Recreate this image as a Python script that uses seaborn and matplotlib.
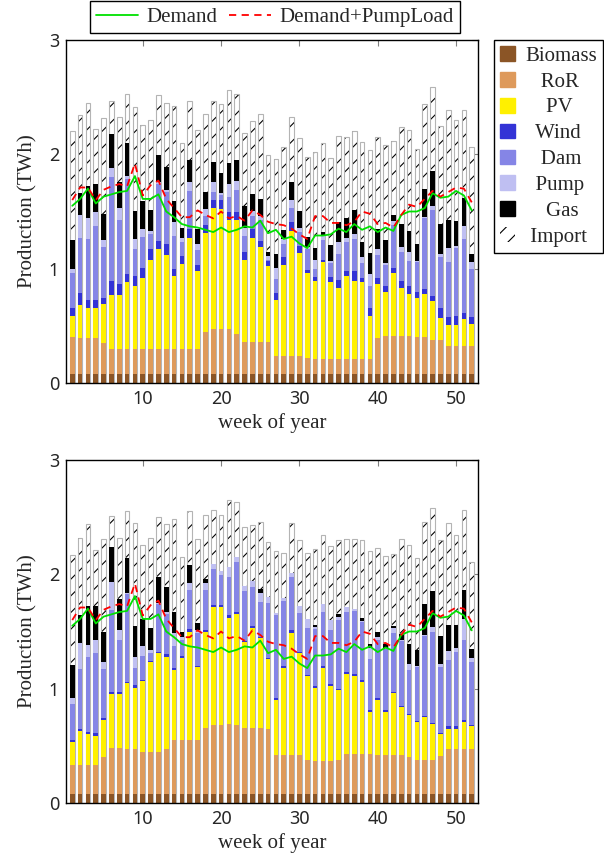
"""
Weekly production mix for two scenarios, stacked bars + demand lines
"""

import matplotlib
matplotlib.use("Agg")
import matplotlib.pyplot as plt
import pandas as pd
import seaborn as sns
from matplotlib.lines import Line2D
from matplotlib.patches import Patch

weeks = list(range(1, 53))
sources = ["Biomass", "RoR", "PV", "Wind", "Dam", "Pump", "Gas", "Import"]
# legend text is centred in the original, pad the short names a bit
legend_labels = ["Biomass", "   RoR", "    PV", "  Wind", "   Dam", "  Pump",
                 "    Gas", " Import"]

# ---- upper scenario (TWh per week)
biomass_a = [0.08] * 52
ror_a = [0.32, 0.31, 0.31, 0.31, 0.27, 0.22, 0.22, 0.22, 0.22, 0.22,
         0.22, 0.22, 0.22, 0.22, 0.22, 0.22, 0.22, 0.37, 0.39, 0.39,
         0.39, 0.35, 0.28, 0.28, 0.28, 0.28, 0.16, 0.16, 0.16, 0.16,
         0.14, 0.13, 0.13, 0.13, 0.13, 0.13, 0.13, 0.13, 0.13, 0.31,
         0.33, 0.33, 0.33, 0.33, 0.32, 0.32, 0.30, 0.30, 0.24, 0.24,
         0.24, 0.24]
pv_a = [0.19, 0.29, 0.27, 0.27, 0.34, 0.47, 0.47, 0.58, 0.55, 0.62,
        0.78, 0.87, 0.82, 0.64, 0.74, 0.97, 0.68, 0.86, 1.06, 1.05,
        0.96, 1.00, 0.72, 0.91, 0.83, 0.66, 0.49, 0.79, 1.09, 0.90,
        0.74, 0.68, 0.85, 0.67, 0.62, 0.73, 0.68, 0.67, 0.38, 0.48,
        0.39, 0.55, 0.42, 0.37, 0.34, 0.38, 0.34, 0.19, 0.19, 0.19,
        0.24, 0.20]
wind_a = [0.07, 0.11, 0.07, 0.07, 0.05, 0.12, 0.10, 0.07, 0.09, 0.09,
          0.09, 0.07, 0.10, 0.06, 0.07, 0.08, 0.05, 0.07, 0.07, 0.08,
          0.07, 0.07, 0.07, 0.08, 0.05, 0.05, 0.06, 0.07, 0.08, 0.06,
          0.03, 0.04, 0.02, 0.05, 0.07, 0.04, 0.09, 0.04, 0.07, 0.05,
          0.05, 0.05, 0.06, 0.07, 0.06, 0.04, 0.04, 0.09, 0.07, 0.08,
          0.05, 0.06]
dam_a = [0.30, 0.48, 0.53, 0.64, 0.45, 0.91, 0.56, 0.83, 0.23, 0.27,
         0.13, 0.50, 0.45, 0.29, 0.12, 0.33, 0.13, 0.08, 0.07, 0.04,
         0.13, 0.19, 0.14, 0.11, 0.19, 0.01, 0.12, 0.12, 0.12, 0.12,
         0.18, 0.07, 0.17, 0.12, 0.23, 0.25, 0.28, 0.13, 0.19, 0.20,
         0.18, 0.37, 0.26, 0.22, 0.26, 0.62, 0.75, 0.44, 0.48, 0.59,
         0.65, 0.42]
pump_a = [0.04, 0.20, 0.18, 0.13, 0.06, 0.08, 0.10, 0.03, 0.09, 0.07,
          0.03, 0.02, 0.02, 0.12, 0.04, 0.08, 0.06, 0.06, 0.09, 0.02,
          0.11, 0.08, 0.07, 0.04, 0.03, 0.03, 0.10, 0.04, 0.07, 0.04,
          0.02, 0.08, 0.04, 0.02, 0.10, 0.04, 0.04, 0.05, 0.10, 0.05,
          0.02, 0.04, 0.04, 0.08, 0.01, 0.01, 0.04, 0.03, 0.12, 0.02,
          0.11, 0.06]
gas_a = [0.25, 0.19, 0.28, 0.24, 0.23, 0.30, 0.23, 0.29, 0.24, 0.24,
         0.18, 0.23, 0.20, 0.18, 0.09, 0.19, 0.13, 0.15, 0.17, 0.18,
         0.18, 0.18, 0.19, 0.15, 0.15, 0.04, 0.12, 0.08, 0.16, 0.14,
         0.09, 0.10, 0.03, 0.14, 0.18, 0.17, 0.21, 0.13, 0.19, 0.18,
         0.20, 0.05, 0.20, 0.18, 0.15, 0.25, 0.30, 0.26, 0.25, 0.22,
         0.25, 0.07]
import_a = [0.95, 0.68, 0.73, 0.48, 0.84, 0.29, 0.57, 0.43, 0.91, 0.67,
            0.79, 0.53, 0.56, 0.83, 0.74, 0.52, 0.86, 0.68, 0.54, 0.60,
            0.64, 0.58, 0.64, 0.64, 0.74, 0.84, 0.83, 0.72, 0.57, 0.64,
            0.70, 0.84, 0.78, 0.76, 0.75, 0.71, 0.69, 0.88, 0.90, 0.80,
            0.83, 0.65, 0.85, 0.88, 0.83, 0.74, 0.74, 0.86, 0.96, 0.88,
            0.77, 0.93]

# ---- lower scenario
biomass_b = [0.08] * 52
ror_b = [0.25, 0.25, 0.25, 0.25, 0.32, 0.40, 0.40, 0.39, 0.39, 0.37,
         0.37, 0.37, 0.39, 0.47, 0.47, 0.47, 0.47, 0.58, 0.60, 0.60,
         0.61, 0.60, 0.58, 0.58, 0.58, 0.57, 0.34, 0.34, 0.34, 0.34,
         0.30, 0.29, 0.29, 0.29, 0.30, 0.35, 0.35, 0.35, 0.35, 0.34,
         0.34, 0.34, 0.34, 0.32, 0.30, 0.30, 0.30, 0.33, 0.39, 0.39,
         0.39, 0.39]
pv_b = [0.20, 0.30, 0.27, 0.26, 0.33, 0.47, 0.47, 0.58, 0.54, 0.62,
        0.78, 0.86, 0.81, 0.61, 0.72, 0.95, 0.64, 0.84, 1.03, 1.03,
        0.93, 0.97, 0.75, 0.87, 0.78, 0.61, 0.48, 0.76, 1.07, 0.89,
        0.73, 0.64, 0.81, 0.65, 0.61, 0.70, 0.68, 0.63, 0.37, 0.48,
        0.38, 0.54, 0.42, 0.37, 0.33, 0.37, 0.31, 0.19, 0.18, 0.18,
        0.24, 0.20]
wind_b = [0.02, 0.02, 0.02, 0.02, 0.01, 0.02, 0.02, 0.01, 0.02, 0.01,
          0.01, 0.01, 0.02, 0.02, 0.02, 0.02, 0.01, 0.01, 0.02, 0.02,
          0.02, 0.02, 0.01, 0.02, 0.01, 0.01, 0.02, 0.02, 0.02, 0.01,
          0.01, 0.01, 0.02, 0.02, 0.01, 0.02, 0.02, 0.02, 0.01, 0.02,
          0.01, 0.01, 0.01, 0.01, 0.01, 0.01, 0.01, 0.01, 0.02, 0.02,
          0.02, 0.01]
dam_b = [0.32, 0.52, 0.66, 0.70, 0.43, 0.72, 0.46, 0.77, 0.15, 0.21,
         0.07, 0.42, 0.35, 0.19, 0.14, 0.34, 0.29, 0.35, 0.32, 0.26,
         0.34, 0.44, 0.43, 0.34, 0.31, 0.48, 0.72, 0.57, 0.47, 0.34,
         0.41, 0.50, 0.47, 0.47, 0.60, 0.52, 0.55, 0.50, 0.45, 0.51,
         0.54, 0.52, 0.57, 0.38, 0.47, 0.70, 0.80, 0.58, 0.58, 0.65,
         0.70, 0.55]
pump_b = [0.05, 0.23, 0.10, 0.12, 0.06, 0.24, 0.08, 0.01, 0.10, 0.08,
          0.03, 0.01, 0.02, 0.12, 0.02, 0.06, 0.02, 0.06, 0.04, 0.04,
          0.08, 0.04, 0.05, 0.05, 0.08, 0.05, 0.02, 0.02, 0.03, 0.06,
          0.08, 0.02, 0.07, 0.09, 0.03, 0.04, 0.02, 0.01, 0.10, 0.02,
          0.01, 0.04, 0.01, 0.06, 0.01, 0.01, 0.04, 0.03, 0.08, 0.04,
          0.18, 0.04]
gas_b = [0.29, 0.24, 0.34, 0.29, 0.27, 0.31, 0.27, 0.30, 0.27, 0.24,
         0.19, 0.23, 0.22, 0.18, 0.05, 0.16, 0.06, 0.04, 0.00, 0.00,
         0.00, 0.00, 0.00, 0.00, 0.03, 0.00, 0.00, 0.00, 0.00, 0.00,
         0.00, 0.02, 0.00, 0.00, 0.02, 0.00, 0.00, 0.03, 0.03, 0.05,
         0.03, 0.02, 0.05, 0.17, 0.14, 0.27, 0.31, 0.24, 0.23, 0.20,
         0.25, 0.08]
import_b = [0.96, 0.68, 0.72, 0.49, 0.81, 0.27, 0.54, 0.41, 0.90, 0.65,
            0.79, 0.52, 0.55, 0.81, 0.65, 0.47, 0.74, 0.56, 0.47, 0.49,
            0.59, 0.48, 0.51, 0.49, 0.59, 0.48, 0.54, 0.40, 0.44, 0.58,
            0.58, 0.66, 0.60, 0.65, 0.65, 0.60, 0.61, 0.68, 0.81, 0.73,
            0.77, 0.63, 0.83, 0.87, 0.80, 0.72, 0.73, 0.84, 0.89, 0.78,
            0.70, 0.76]

# ---- demand lines (same in both panels)
demand = [1.55, 1.61, 1.70, 1.57, 1.63, 1.65, 1.67, 1.68, 1.81, 1.61,
          1.61, 1.65, 1.50, 1.45, 1.39, 1.37, 1.36, 1.34, 1.32, 1.36,
          1.32, 1.34, 1.37, 1.36, 1.42, 1.31, 1.34, 1.26, 1.28, 1.22,
          1.18, 1.29, 1.29, 1.30, 1.35, 1.32, 1.39, 1.34, 1.37, 1.32,
          1.36, 1.33, 1.47, 1.50, 1.50, 1.53, 1.66, 1.62, 1.63, 1.68,
          1.64, 1.51]
demand_pump = [1.60, 1.71, 1.71, 1.60, 1.69, 1.72, 1.74, 1.72, 1.92, 1.64,
               1.73, 1.77, 1.61, 1.53, 1.45, 1.45, 1.51, 1.47, 1.44, 1.50,
               1.44, 1.46, 1.42, 1.51, 1.47, 1.41, 1.39, 1.38, 1.35, 1.30,
               1.26, 1.46, 1.46, 1.40, 1.40, 1.38, 1.41, 1.50, 1.48, 1.39,
               1.40, 1.36, 1.47, 1.56, 1.54, 1.61, 1.68, 1.63, 1.67, 1.71,
               1.70, 1.58]

colors = {"Biomass": "#8b5526", "RoR": "#de9a5b", "PV": "#fff000",
          "Wind": "#3333d6", "Dam": "#8585e6", "Pump": "#bfbff2",
          "Gas": "#000000", "Import": "#ffffff"}

sns.set_theme(style="white")
plt.rcParams["font.family"] = ["Liberation Serif", "DejaVu Serif"]
plt.rcParams["hatch.linewidth"] = 0.8

fig = plt.figure(figsize=(6.04, 8.57), dpi=100)
ax_top = fig.add_axes([66 / 604, 1 - 383 / 857, 412 / 604, 343 / 857])
ax_bot = fig.add_axes([66 / 604, 1 - 803 / 857, 412 / 604, 343 / 857])

panels = [
    (ax_top, [biomass_a, ror_a, pv_a, wind_a, dam_a, pump_a, gas_a, import_a]),
    (ax_bot, [biomass_b, ror_b, pv_b, wind_b, dam_b, pump_b, gas_b, import_b]),
]

for ax, parts in panels:
    df = pd.DataFrame(dict(zip(sources, parts)), index=weeks)
    cum = df.cumsum(axis=1)
    # draw tallest first, then cover with the lower cumulative levels
    for name in reversed(sources):
        if name == "Import":
            sns.barplot(x=weeks, y=cum[name].values, native_scale=True, width=0.6,
                        color="white", saturation=1, edgecolor="black", linewidth=0,
                        hatch="//", ax=ax)
            sns.barplot(x=weeks, y=cum[name].values, native_scale=True, width=0.6,
                        facecolor="none", edgecolor="#b4b4b4", linewidth=0.8, ax=ax)
        else:
            sns.barplot(x=weeks, y=cum[name].values, native_scale=True, width=0.6,
                        color=colors[name], saturation=1, linewidth=0, ax=ax)

    sns.lineplot(x=weeks, y=demand, color="#00e000", linewidth=1.3, ax=ax)
    sns.lineplot(x=weeks, y=demand_pump, color="#ff0000", linewidth=1.3,
                 linestyle=(0, (4, 3)), ax=ax)

    ax.set_xlim(0.2, 52.8)
    ax.set_ylim(0, 3)
    ax.set_xticks([10, 20, 30, 40, 50], labels=["10", "20", "30", "40", "50"],
                  fontfamily="Noto Sans", fontsize=13)
    ax.set_yticks([0, 1, 2, 3], labels=["0", "1", "2", "3"],
                  fontfamily="Noto Sans", fontsize=13)
    ax.tick_params(direction="in", top=True, right=True, length=4, width=0.8,
                   color="#808080", pad=5)
    ax.set_xlabel("week of year", fontsize=15, labelpad=4)
    ax.set_ylabel("Production (TWh)", fontsize=15, labelpad=8)
    for s in ax.spines.values():
        s.set_color("black")
        s.set_linewidth(1.0)
    ax.grid(False)

line_handles = [Line2D([], [], color="#00e000", lw=1.3),
                Line2D([], [], color="#ff0000", lw=1.3, linestyle=(0, (4, 3)))]
ax_top.legend(line_handles, ["Demand", "Demand+PumpLoad"], loc="lower center",
              bbox_to_anchor=(0.507, 1.02), ncol=2, fontsize=15, frameon=True,
              fancybox=False, edgecolor="black", framealpha=1, borderpad=0.3,
              handlelength=2.0, handletextpad=0.4, columnspacing=0.6,
              borderaxespad=0)

src_handles = []
for name in sources:
    if name == "Import":
        src_handles.append(Patch(facecolor="white", edgecolor="black", hatch="//",
                                 linewidth=0))
    else:
        src_handles.append(Patch(facecolor=colors[name], edgecolor=colors[name]))
fig.legend(src_handles, legend_labels, loc="upper left",
           bbox_to_anchor=(494 / 604, 1 - 40 / 857), fontsize=15,
           frameon=True, fancybox=False, edgecolor="black", framealpha=1,
           handlelength=0.7, handleheight=0.7, handletextpad=0.5,
           labelspacing=0.3, borderpad=0.3, borderaxespad=0)

fig.savefig("out.png", dpi=100)
